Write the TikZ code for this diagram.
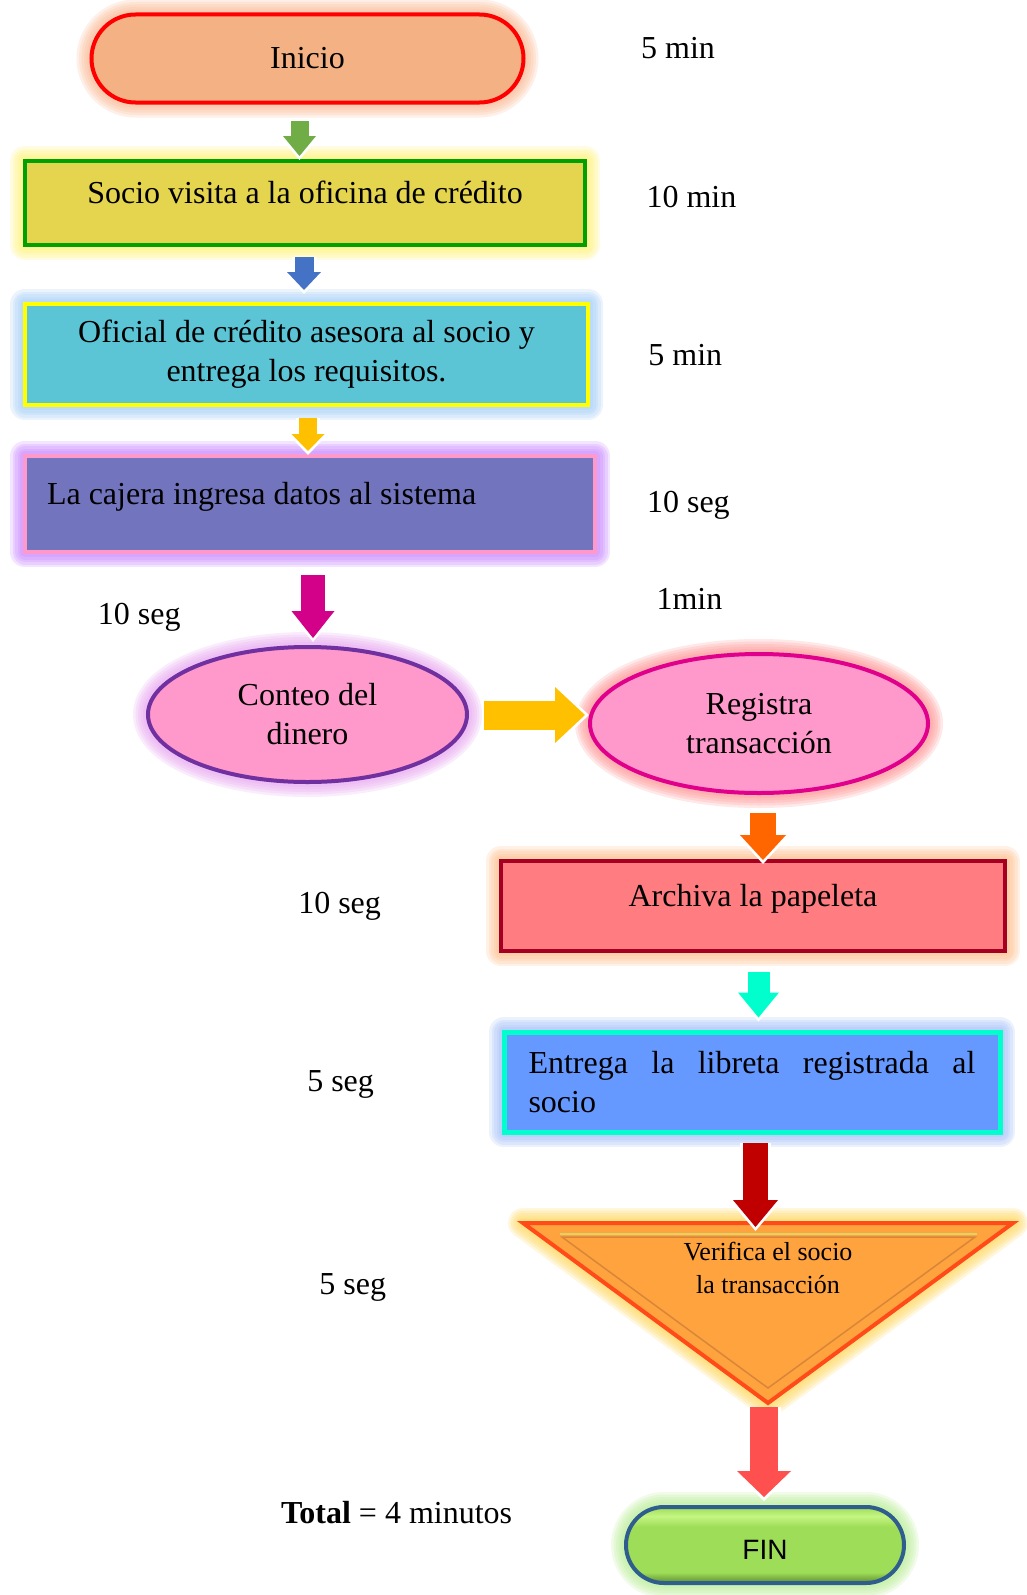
\documentclass[tikz,border=0pt]{standalone}
\usepackage{fontspec}
\setmainfont{Liberation Serif}
\setsansfont{Liberation Sans}
\usetikzlibrary{arrows.meta,calc,shapes.geometric}

\definecolor{cInicio}{HTML}{F4B183}
\definecolor{gInicio}{HTML}{FBB58D}
\definecolor{cSocio}{HTML}{E4D44E}
\definecolor{bSocio}{HTML}{00A000}
\definecolor{gSocio}{HTML}{FFF36B}
\definecolor{cOficial}{HTML}{5BC5D6}
\definecolor{bOficial}{HTML}{FFFF00}
\definecolor{gOficial}{HTML}{9CCBF8}
\definecolor{cCajera}{HTML}{7275BD}
\definecolor{bCajera}{HTML}{FF99CC}
\definecolor{gCajera}{HTML}{C47BFF}
\definecolor{cConteo}{HTML}{FF99CC}
\definecolor{bConteo}{HTML}{7030A0}
\definecolor{gConteo}{HTML}{E8A3F0}
\definecolor{bRegistra}{HTML}{E0008C}
\definecolor{gRegistra}{HTML}{FF8C8C}
\definecolor{cArchiva}{HTML}{FF7C80}
\definecolor{bArchiva}{HTML}{A50021}
\definecolor{gArchiva}{HTML}{FFBD85}
\definecolor{cEntrega}{HTML}{6699FF}
\definecolor{bEntrega}{HTML}{00FFCC}
\definecolor{gEntrega}{HTML}{9DBDF8}
\definecolor{cVerifica}{HTML}{FFA33F}
\definecolor{bVerifica}{HTML}{FF4B1A}
\definecolor{gVerifica}{HTML}{FFD54F}
\definecolor{sVerifica}{HTML}{C97A36}
\definecolor{finClaro}{HTML}{C4F582}
\definecolor{finMedio}{HTML}{9EDD58}
\definecolor{finOscuro}{HTML}{5E8C30}
\definecolor{bFin}{HTML}{2F5E8E}
\definecolor{gFin}{HTML}{B5EE90}
\definecolor{fVerde}{HTML}{70AD47}
\definecolor{fAzul}{HTML}{4472C4}
\definecolor{fAmarillo}{HTML}{FFC000}
\definecolor{fMagenta}{HTML}{D3008A}
\definecolor{fNaranja}{HTML}{FF6600}
\definecolor{fTurquesa}{HTML}{00FFCC}
\definecolor{fRojoOsc}{HTML}{C00000}
\definecolor{fRojo}{HTML}{FF5050}

\pgfdeclareverticalshading{finsombra}{100bp}{color(0bp)=(finOscuro); color(25bp)=(finOscuro);
    color(32bp)=(finMedio); color(62bp)=(finMedio); color(69bp)=(finClaro); color(75bp)=(finMedio);
    color(100bp)=(finMedio)}

\hyphenpenalty=10000
\tolerance=9999

\tikzset{
    every node/.style={font=\fontsize{32}{39}\selectfont},
    halo/.style 2 args={preaction={draw=#1,line width=#2pt,draw opacity=0.2,line join=round}},
    brillo/.style={halo={#1}{30},halo={#1}{25},halo={#1}{20},halo={#1}{15},halo={#1}{10}},
    caja/.style={rectangle,line width=4pt,inner sep=0pt},
    unalinea/.style={text height=20pt,text depth=20pt},
    elipse/.style={ellipse,line width=4pt,inner sep=0pt,align=center},
    tiempo/.style={anchor=base},
    flecha/.style n args={4}{draw=#1,line width=#2pt,-{Triangle[width=#3pt,length=#4pt,line width=0pt]},
        preaction={draw=white,line width=#2pt+6pt,shorten >=-4pt,
                   -{Triangle[width=#3pt+11pt,length=#4pt+6pt,line width=0pt]}}}
}

\begin{document}
\begin{tikzpicture}[x=1pt,y=-1pt]
    \fill[white] (0,0) rectangle (1026,1595);
    \useasboundingbox (0,0) rectangle (1026,1595);

    \node[caja,fill=cInicio,draw=red,brillo=gInicio,rounded corners=44pt,
        minimum width=432pt,minimum height=88pt] (inicio) at (307.5,58.5) {Inicio};
    \node[caja,unalinea,fill=cSocio,draw=bSocio,brillo=gSocio,
        minimum width=560pt,minimum height=84pt] (socio) at (305,203) {Socio visita a la oficina de crédito};
    \node[caja,fill=cOficial,draw=bOficial,brillo=gOficial,align=center,
        minimum width=563pt,minimum height=101pt] (oficial) at (306.5,354.5)
        {Oficial de crédito asesora al socio y\\entrega los requisitos.};
    \node[caja,unalinea,fill=cCajera,draw=bCajera,brillo=gCajera,align=flush left,
        inner xsep=22pt,text width=526pt,minimum height=96pt] (cajera) at (310,504)
        {La cajera ingresa datos al sistema};
    \node[elipse,fill=cConteo,draw=bConteo,brillo=gConteo,
        minimum width=319pt,minimum height=135pt] (conteo) at (307.5,714.5) {Conteo del\\dinero};
    \node[elipse,fill=cConteo,draw=bRegistra,brillo=gRegistra,
        minimum width=338pt,minimum height=139pt] (registra) at (759,723.5) {Registra\\transacción};
    \node[caja,unalinea,fill=cArchiva,draw=bArchiva,brillo=gArchiva,
        minimum width=504pt,minimum height=90pt] (archiva) at (753,906) {Archiva la papeleta};
    \node[caja,fill=cEntrega,draw=bEntrega,brillo=gEntrega,line width=5pt,align=justify,
        inner xsep=24.5pt,text width=447pt,minimum height=100pt] (entrega) at (752,1082)
        {Entrega la libreta registrada al socio};

    \coordinate (tarriba) at (768,1223);
    \coordinate (tpunta) at (768,1403);
    \draw[fill=cVerifica,draw=bVerifica,line width=4pt,brillo=gVerifica] (523,1223) -- (1013,1223) -- (tpunta) -- cycle;
    \draw[sVerifica,line width=1.5pt,draw opacity=0.7] (562,1237) -- (975,1237) -- (768,1388) -- cycle;
    \draw[finClaro!60!cVerifica,line width=1.5pt] (560,1234) -- (977,1234);
    \node[font=\fontsize{26}{33}\selectfont,align=center] (verifica) at (768,1267.6)
        {Verifica el socio\\la transacción};

    \node[caja,shading=finsombra,draw=bFin,brillo=gFin,rounded corners=38pt,
        font=\fontsize{28}{34}\sffamily,text height=28pt,text depth=0pt,
        minimum width=278pt,minimum height=76pt] (fin) at (765,1545) {FIN};

    \draw[flecha={fVerde}{18}{33}{20}] ($(inicio.south)+(-8,16.5)$) -- ($(socio.north)+(-5.5,-3)$);
    \draw[flecha={fAzul}{19}{34}{18}] ($(socio.south)+(-1,10)$) -- ($(oficial.north)+(-2.5,-12)$);
    \draw[flecha={fAmarillo}{18}{33}{17}] ($(oficial.south)+(1.5,11)$) -- ($(cajera.north)+(-2,-3)$);
    \draw[flecha={fMagenta}{24}{43}{27}] ($(cajera.south)+(3,21)$) -- ($(conteo.north)+(5.5,-7)$);
    \draw[flecha={fAmarillo}{29}{56}{30}] ($(conteo.east)+(15,0.5)$) -- ($(registra.west)+(-3,-8.5)$);
    \draw[flecha={fNaranja}{26}{46}{25}] ($(registra.south)+(4,18)$) -- ($(archiva.north)+(10,1)$);
    \draw[flecha={fTurquesa}{22}{41}{25}] ($(archiva.south)+(5.5,19)$) -- ($(entrega.north)+(6.5,-12)$);
    \draw[flecha={fRojoOsc}{25}{45}{27}] ($(entrega.south)+(3.5,8)$) -- ($(tarriba)+(-12.5,4)$);
    \draw[flecha={fRojo}{28}{54}{26}] ($(tpunta)+(-4,4)$) -- ($(fin.north)+(-1,-8)$);

    \node[tiempo] (t1) at (678,59) {5 min};
    \node[tiempo] (t2) at (691.4,207) {10 min};
    \node[tiempo] (t3) at (685.3,365) {5 min};
    \node[tiempo] (t4) at (688.4,512) {10 seg};
    \node[tiempo] (t5) at (689.4,609) {1min};
    \node[tiempo] (t6) at (139.3,624) {10 seg};
    \node[tiempo] (t7) at (339.6,913) {10 seg};
    \node[tiempo] (t8) at (340.6,1091) {5 seg};
    \node[tiempo] (t9) at (352.8,1294) {5 seg};
    \node[tiempo] (total) at (396.6,1523) {\textbf{Total} = 4 minutos};
\end{tikzpicture}
\end{document}
